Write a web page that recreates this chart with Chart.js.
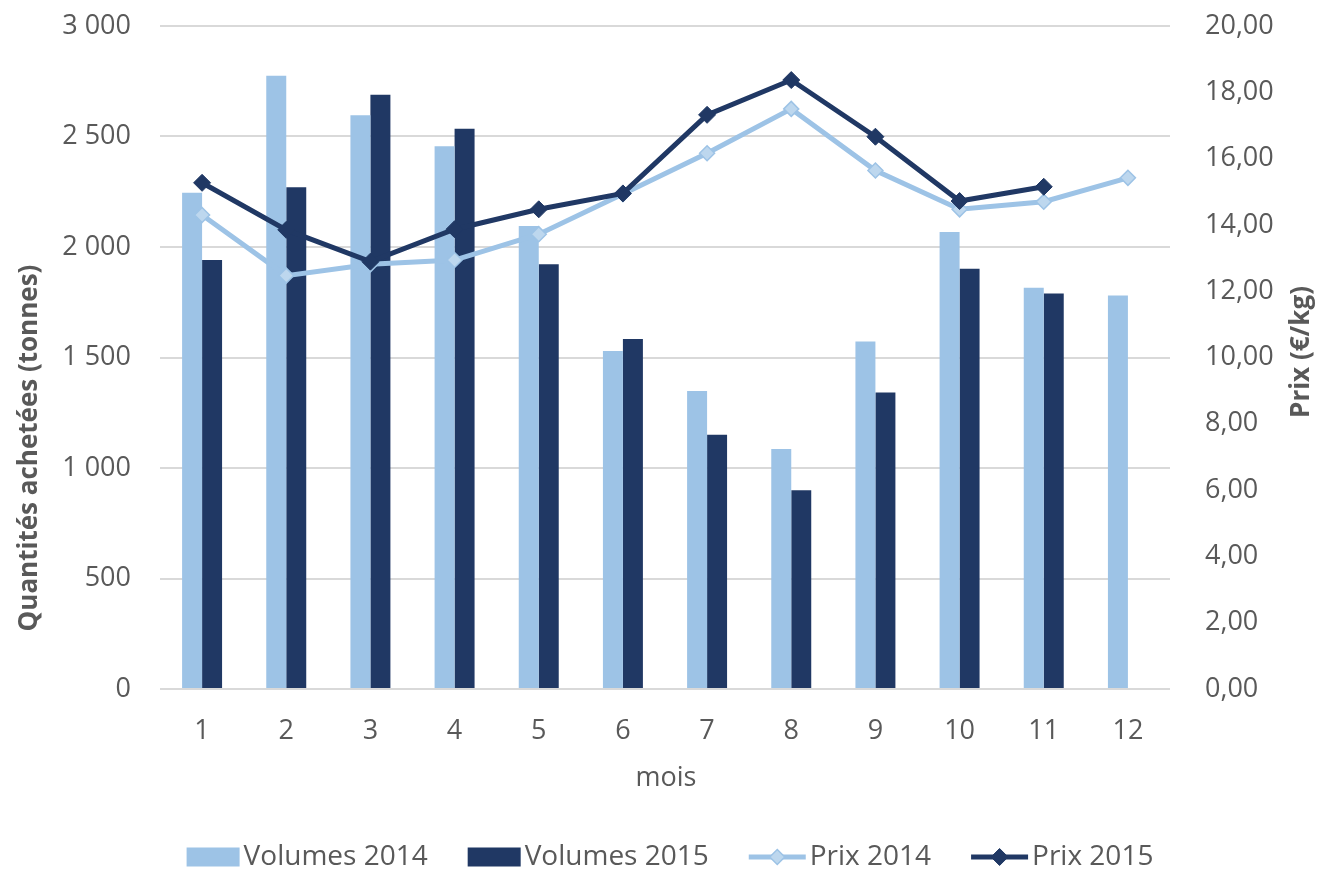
<!DOCTYPE html>
<html>
<head>
<meta charset="utf-8">
<script src="https://cdn.jsdelivr.net/npm/chart.js@4.4.0/dist/chart.umd.min.js"></script>
<style>
  html, body { margin: 0; padding: 0; background: #fff; }
  #wrap { width: 1317px; height: 869px; }
</style>
</head>
<body>
<div id="wrap"><canvas id="graph"></canvas></div>
<script>
// donnees
const mois = ['1', '2', '3', '4', '5', '6', '7', '8', '9', '10', '11', '12'];
const volumes2014 = [2245, 2775, 2596, 2456, 2095, 1529, 1348, 1086, 1572, 2068, 1816, 1781];
const volumes2015 = [1941, 2270, 2689, 2535, 1922, 1584, 1151, 899, 1342, 1902, 1790, null];
const prix2014 = [14.30, 12.47, 12.81, 12.94, 13.72, 14.93, 16.16, 17.50, 15.64, 14.47, 14.70, 15.42];
const prix2015 = [15.27, 13.85, 12.89, 13.87, 14.47, 14.95, 17.32, 18.37, 16.66, 14.72, 15.15, null];

const clair = '#9DC3E6';
const fonce = '#203864';
const gris = '#595959';

Chart.defaults.font.family = '"Open Sans", sans-serif';
Chart.defaults.font.size = 27;
Chart.defaults.color = gris;

// titres des axes (le titre de droite se lit de bas en haut)
const titres = {
  id: 'titres',
  afterDraw(chart) {
    const ctx = chart.ctx;
    const a = chart.chartArea;
    ctx.save();
    ctx.fillStyle = gris;
    ctx.textAlign = 'center';
    ctx.textBaseline = 'middle';
    ctx.font = 'bold 26px "Open Sans"';
    ctx.save();
    ctx.translate(a.left - 130, 448);
    ctx.rotate(-Math.PI / 2);
    ctx.fillText('Quantités achetées (tonnes)', 0, 0);
    ctx.restore();
    ctx.save();
    ctx.translate(a.right + 132, 352);
    ctx.rotate(-Math.PI / 2);
    ctx.fillText('Prix (€/kg)', 0, 0);
    ctx.restore();
    ctx.font = '27px "Open Sans"';
    ctx.fillText('mois', 666, a.bottom + 89);
    ctx.restore();
  }
};

// legende en bas, avec trait + losange pour les courbes
const legende = {
  id: 'legende',
  afterDraw(chart) {
    const ctx = chart.ctx;
    const ds = chart.data.datasets;
    ctx.save();
    ctx.font = '28px "Open Sans"';
    const larg = d => (d.type === 'bar' ? 53 : 57);
    let total = 0;
    ds.forEach((d, i) => {
      total += larg(d) + 4 + ctx.measureText(d.label).width;
      if (i < ds.length - 1) total += 40;
    });
    let x = 670 - total / 2;
    const y = 857;
    ds.forEach(d => {
      const w = larg(d);
      if (d.type === 'bar') {
        ctx.fillStyle = d.backgroundColor;
        ctx.fillRect(x, y - 9.5, w, 19);
      } else {
        ctx.strokeStyle = d.borderColor;
        ctx.lineWidth = d.borderWidth;
        ctx.beginPath();
        ctx.moveTo(x, y);
        ctx.lineTo(x + w, y);
        ctx.stroke();
        const r = d.pointRadius;
        const cx = x + w / 2;
        ctx.beginPath();
        ctx.moveTo(cx, y - r);
        ctx.lineTo(cx + r, y);
        ctx.lineTo(cx, y + r);
        ctx.lineTo(cx - r, y);
        ctx.closePath();
        ctx.fillStyle = d.pointBackgroundColor;
        ctx.fill();
        ctx.lineWidth = d.pointBorderWidth;
        ctx.strokeStyle = d.pointBorderColor;
        ctx.stroke();
      }
      x += w + 4;
      ctx.fillStyle = gris;
      ctx.textAlign = 'left';
      ctx.textBaseline = 'middle';
      ctx.fillText(d.label, x, y);
      x += ctx.measureText(d.label).width + 40;
    });
    ctx.restore();
  }
};

const ajusteVertical = largeur => s => {
  s.width = largeur;
  s.paddingTop = 0;
  s.paddingBottom = 0;
};

new Chart(document.getElementById('graph'), {
  data: {
    labels: mois,
    datasets: [
      {
        type: 'bar',
        label: 'Volumes 2014',
        data: volumes2014,
        backgroundColor: clair,
        yAxisID: 'y',
        order: 2
      },
      {
        type: 'bar',
        label: 'Volumes 2015',
        data: volumes2015,
        backgroundColor: fonce,
        yAxisID: 'y',
        order: 3
      },
      {
        type: 'line',
        label: 'Prix 2014',
        data: prix2014,
        borderColor: clair,
        borderWidth: 5,
        pointStyle: 'rectRot',
        pointRadius: 7.5,
        pointBackgroundColor: '#BDD7EE',
        pointBorderColor: clair,
        pointBorderWidth: 1.5,
        yAxisID: 'y2',
        order: 1
      },
      {
        type: 'line',
        label: 'Prix 2015',
        data: prix2015,
        borderColor: fonce,
        borderWidth: 5,
        pointStyle: 'rectRot',
        pointRadius: 8.5,
        pointBackgroundColor: fonce,
        pointBorderColor: fonce,
        pointBorderWidth: 1,
        yAxisID: 'y2',
        order: 0
      }
    ]
  },
  options: {
    responsive: true,
    maintainAspectRatio: false,
    animation: false,
    devicePixelRatio: 1,
    layout: { padding: { top: 26, left: 0, right: 0, bottom: 0 } },
    datasets: {
      bar: { categoryPercentage: 0.475, barPercentage: 1 }
    },
    plugins: {
      legend: { display: false },
      tooltip: { enabled: true }
    },
    scales: {
      x: {
        grid: { display: false, drawTicks: false },
        border: { display: false },
        ticks: { padding: 26 },
        afterFit: s => { s.height = 180; }
      },
      y: {
        position: 'left',
        min: 0,
        max: 3000,
        ticks: {
          stepSize: 500,
          padding: 29,
          callback: v => v.toLocaleString('fr-FR').replace(/\u202f|\u00a0/g, ' ')
        },
        grid: { color: '#D9D9D9', lineWidth: 2, drawTicks: false },
        border: { display: false },
        afterFit: ajusteVertical(160)
      },
      y2: {
        position: 'right',
        min: 0,
        max: 20,
        ticks: {
          stepSize: 2,
          padding: 35,
          callback: v => v.toFixed(2).replace('.', ',')
        },
        grid: { drawOnChartArea: false, drawTicks: false },
        border: { display: false },
        afterFit: ajusteVertical(147)
      }
    }
  },
  plugins: [titres, legende]
});
</script>
</body>
</html>
